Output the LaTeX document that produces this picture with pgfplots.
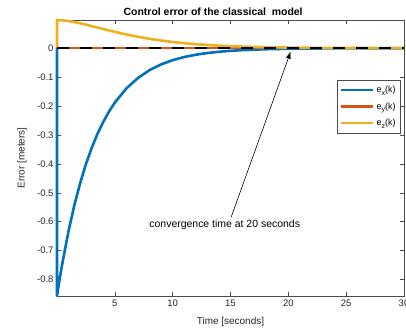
\documentclass[border=0pt]{standalone}
\usepackage{pgfplots}
\pgfplotsset{compat=1.18}
\usetikzlibrary{arrows.meta}
\usepackage{fontspec}
\setmainfont{Liberation Sans}
\definecolor{mblue}{rgb}{0,0.447,0.741}
\definecolor{morange}{rgb}{0.85,0.325,0.098}
\definecolor{myellow}{rgb}{0.929,0.694,0.125}
\begin{document}
\begin{tikzpicture}
\begin{axis}[
  at={(0,0)}, anchor=south west,
  scale only axis, width=347bp, height=276bp,
  xmin=0, xmax=30, ymin=-0.857, ymax=0.0975,
  xtick={5,10,15,20,25,30},
  ytick={-0.8,-0.7,-0.6,-0.5,-0.4,-0.3,-0.2,-0.1,0},
  yticklabels={-0.8,-0.7,-0.6,-0.5,-0.4,-0.3,-0.2,-0.1,0},
  xticklabels={5,10,15,20,25,30},
  tick align=inside, major tick length=4bp,
  axis line style={draw=black!70, line width=0.5bp},
  tick style={draw=black!70, line width=0.5bp},
  ticklabel style={font=\fontsize{9.5}{11}\selectfont, text=black!85},
  xlabel={Time [seconds]},
  ylabel={Error [meters]},
  label style={font=\fontsize{10}{12}\selectfont, text=black!85},
  xlabel style={at={(axis description cs:0.5,0)}, anchor=center, yshift=-26bp},
  ylabel style={at={([xshift=-35bp]axis description cs:0,0.5)}, anchor=center},
  title={\textbf{Control error of the classical\ \ model}},
  title style={font=\fontsize{10.5}{12}\selectfont, at={(axis description cs:0.45,1)}, anchor=center, yshift=2.5bp},
  clip=false,
  legend style={at={(0.991,0.783)}, anchor=north east, draw=black!70, line width=0.5bp,
    font=\fontsize{9}{10}\selectfont, row sep=4.5bp, inner xsep=3bp, inner ysep=4bp},
  legend cell align=left,
  legend image code/.code={\draw[#1] (0bp,0bp) -- (32bp,0bp);},
]
\addplot[mblue, line width=2.6bp, line join=round] coordinates {
(0,0) (0,-0.856) (0.25,-0.793) (0.5,-0.736) (1,-0.632) (1.5,-0.543) (2,-0.467)
(2.5,-0.401) (3,-0.345) (3.5,-0.296) (4,-0.255) (4.5,-0.219) (5,-0.188) (6,-0.139)
(7,-0.103) (8,-0.0758) (9,-0.056) (10,-0.0414) (11,-0.0305) (12,-0.0226)
(13,-0.0167) (14,-0.0123) (15,-0.0091) (16,-0.0067) (18,-0.0037) (20,-0.002)
(22,-0.0011) (25,-0.0004) (30,-0.0001)
};
\addlegendentry{e\raisebox{-0.55ex}{\fontsize{7}{7}\selectfont x}(k)}
\addplot[morange, line width=2.6bp] coordinates {(0,0) (30,0)};
\addlegendentry{e\raisebox{-0.55ex}{\fontsize{7}{7}\selectfont y}(k)}
\addplot[myellow, line width=2.6bp, line join=round] coordinates {
(0,0) (0,0.097) (0.5,0.0961) (1,0.0937) (1.5,0.0903) (2,0.0861) (2.5,0.0814)
(3,0.0764) (4,0.0663) (5,0.0565) (6,0.0474) (7,0.0394) (8,0.0324) (9,0.0265)
(10,0.0215) (11,0.0173) (12,0.0139) (13,0.0111) (14,0.0089) (15,0.0071)
(16,0.0056) (18,0.0035) (20,0.0022) (22,0.0013) (25,0.0006) (30,0.0002)
};
\addlegendentry{e\raisebox{-0.55ex}{\fontsize{7}{7}\selectfont z}(k)}
\addplot[black, line width=2.6bp, dash pattern=on 11.5bp off 11.5bp, forget plot] coordinates {(0,0) (30,0)};
\draw[-{Latex[length=7bp,width=5bp]}, line width=0.6bp] (axis cs:15.05,-0.585) -- (axis cs:20.2,-0.012);
\node[font=\fontsize{10.5}{12}\selectfont, fill=white, inner sep=1bp] at (axis cs:14.5,-0.612) {convergence time at 20 seconds};
\end{axis}
\pgfresetboundingbox
\path (-57bp,-35bp) rectangle (349bp,296bp);
\end{tikzpicture}
\end{document}
